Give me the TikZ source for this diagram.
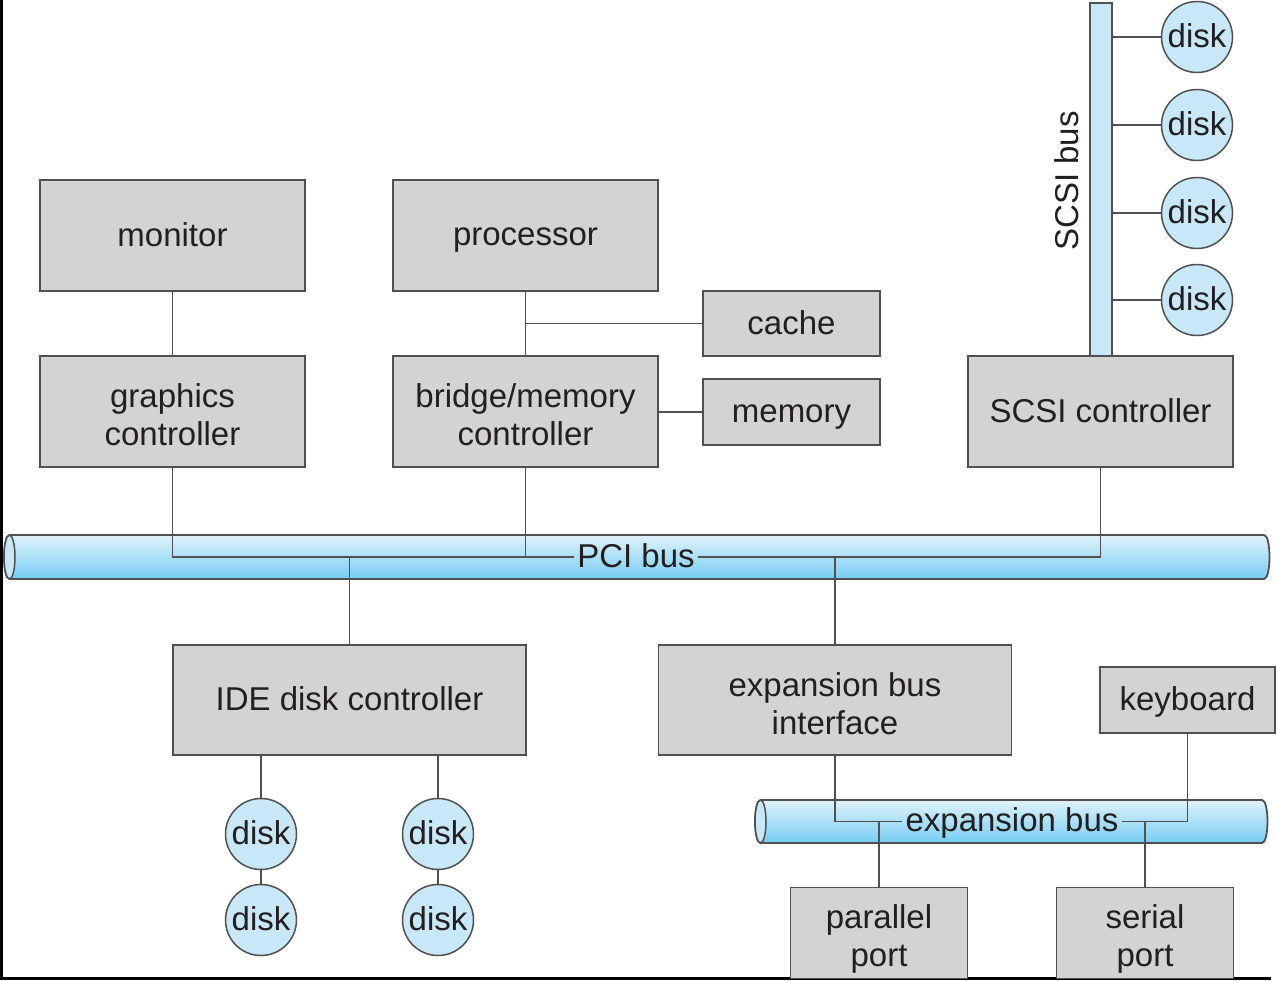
\documentclass[tikz,border=0pt]{standalone}
\usepackage{fontspec}
\setmainfont{Liberation Sans}

\definecolor{boxgray}{RGB}{211,211,213}
\definecolor{edge}{RGB}{80,80,82}
\definecolor{ink}{RGB}{35,31,32}
\definecolor{diskblue}{RGB}{200,232,248}
\definecolor{bustop}{RGB}{224,242,251}
\definecolor{busbot}{RGB}{118,205,243}

\newcommand{\topstrut}{\rule{0pt}{27pt}}
\newcommand{\botstrut}{\rule[-6pt]{0pt}{6pt}}
\newcommand{\tallstrut}{\rule{0pt}{36pt}}

\begin{document}
\begin{tikzpicture}[x=1pt, y=-1pt,
    unit/.style ={rectangle, draw=edge, fill=boxgray, line width=1.8pt, text=ink,
      align=center, font=\fontsize{33}{38}\selectfont,
      execute at begin node=\topstrut, execute at end node=\botstrut,
      minimum width=265pt, minimum height=111pt},
    disk/.style ={circle, draw=edge, fill=diskblue, line width=1.5pt, inner sep=0pt,
      minimum size=71pt, text=ink, font=\fontsize{33}{38}\selectfont,
      execute at begin node=\topstrut, execute at end node=\botstrut},
    busshade/.style ={draw=edge, line width=1.8pt, top color=bustop, bottom color=busbot},
    busend/.style ={draw=edge, line width=1.5pt, fill=diskblue},
    buslabel/.style ={inner sep=3pt, text=ink, font=\fontsize{33}{38}\selectfont,
      execute at begin node=\topstrut, execute at end node=\botstrut},
    link/.style ={draw=edge, line width=1.5pt}]
   \useasboundingbox (0,0) rectangle (1277,980);
   \fill[white] (0,0) rectangle (1277,980);
   \draw[black, line width=3pt] (1.5,0) -- (1.5,978.5) -- (1271,978.5);

   % upper row
   \node[unit] (mon) at (172.5,235.5) {monitor};
   \node[unit] (proc) at (525.5,235.5) {processor};
   \node[unit] (gc) at (172.5,411.5) {\tallstrut graphics\\controller};
   \node[unit] (bmc) at (525.5,411.5) {\tallstrut bridge/memory\\controller};
   \node[unit, minimum width=177pt, minimum height=65pt] (cache) at (791.5,323.5) {cache};
   \node[unit, minimum width=177pt, minimum height=66pt] (mem) at (791.5,412) {memory};
   \node[unit] (scsic) at (1100.5,411.5) {SCSI controller};

   % SCSI bus and its disks
   \node[rectangle, draw=edge, fill=diskblue, line width=1.5pt,
     minimum width=22pt, minimum height=353pt, inner sep=0pt] (scsibus) at (1101,179.5) {};
   \node[buslabel, rotate=90] (scsilbl) at (1068,181) {SCSI bus};
   \node[disk] (sd1) at (1197,37) {disk};
   \node[disk] (sd2) at (1197,125) {disk};
   \node[disk] (sd3) at (1197,213) {disk};
   \node[disk] (sd4) at (1197,300) {disk};

   % PCI bus
   \shade[busshade] (9.5,535) -- (1264,535) .. controls (1271.3,535) and (1271.3,579) .. (1264,579)
     -- (9.5,579) .. controls (2.2,579) and (2.2,535) .. (9.5,535) -- cycle;
   \draw[busend] (9.5,557) ellipse [x radius=5.5, y radius=22];
   \coordinate (pci) at (637,557);
   \node[buslabel] (pcilbl) at (636,557) {PCI bus};

   % lower row
   \node[unit, minimum width=353pt, minimum height=110pt] (ide) at (349.5,700) {IDE disk controller};
   \node[unit, minimum width=353pt, minimum height=110pt] (ebi) at (835,700) {\tallstrut expansion bus\\interface};
   \node[unit, minimum width=175pt, minimum height=66pt] (kbd) at (1187.5,700) {keyboard};
   \node[disk] (id1) at (261,834) {disk};
   \node[disk] (id2) at (261,920) {disk};
   \node[disk] (id3) at (438,834) {disk};
   \node[disk] (id4) at (438,920) {disk};

   % expansion bus
   \shade[busshade] (760.5,800) -- (1262,800) .. controls (1269.3,800) and (1269.3,843) .. (1262,843)
     -- (760.5,843) .. controls (753.2,843) and (753.2,800) .. (760.5,800) -- cycle;
   \draw[busend] (760.5,821.5) ellipse [x radius=5.5, y radius=21.5];
   \coordinate (expb) at (1011,821.5);
   \node[buslabel] (eblbl) at (1012,821.5) {expansion bus};
   \node[unit, minimum width=177pt, minimum height=91pt] (par) at (879,933) {\tallstrut parallel\\port};
   \node[unit, minimum width=177pt, minimum height=91pt] (ser) at (1145,933) {\tallstrut serial\\port};

   % links
   \draw[link] (mon) -- (gc);
   \draw[link] (proc) -- (bmc);
   \draw[link] (cache.west) -- (cache.west -| proc);
   \draw[link] (mem.west) -- (mem.west -| bmc.east);
   \draw[link] (scsibus.east |- sd1) -- (sd1);
   \draw[link] (scsibus.east |- sd2) -- (sd2);
   \draw[link] (scsibus.east |- sd3) -- (sd3);
   \draw[link] (scsibus.east |- sd4) -- (sd4);
   \draw[link] (gc.south) -- (gc.south |- pci) -- (pcilbl.west |- pci);
   \draw[link] (scsic.south) -- (scsic.south |- pci) -- (pcilbl.east |- pci);
   \draw[link] (bmc.south) -- (bmc.south |- pci);
   \draw[link] (ide.north) -- (ide.north |- pci);
   \draw[link] (ebi.north) -- (ebi.north |- pci);
   \draw[link] (id1) -- (id1 |- ide.south);
   \draw[link] (id3) -- (id3 |- ide.south);
   \draw[link] (id1) -- (id2);
   \draw[link] (id3) -- (id4);
   \draw[link] (ebi.south) -- (ebi.south |- expb) -- (eblbl.west |- expb);
   \draw[link] (kbd.south) -- (kbd.south |- expb) -- (eblbl.east |- expb);
   \draw[link] (par.north) -- (par.north |- expb);
   \draw[link] (ser.north) -- (ser.north |- expb);
 \end{tikzpicture}
\end{document}
